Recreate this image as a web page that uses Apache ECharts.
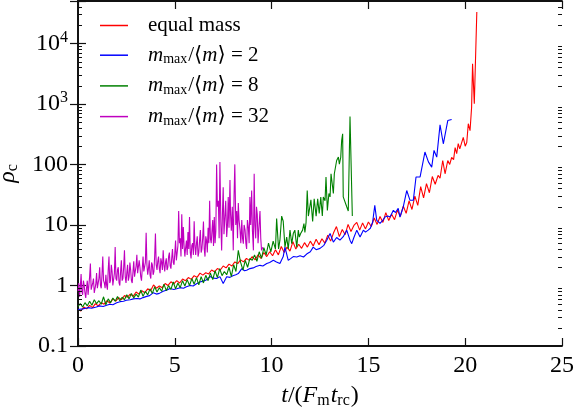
<!DOCTYPE html>
<html><head><meta charset="utf-8">
<script src="https://cdn.jsdelivr.net/npm/echarts@6/dist/echarts.min.js"></script>
<style>html,body{margin:0;padding:0;background:#fff}#c{width:577px;height:413px}</style>
</head><body><div id="c"></div>
<script>
// ---------- data ----------
const xTickValues = [0, 5, 10, 15, 20, 25];
const yTickValues = [0.1, 1, 10, 100, 1000, 10000];
const yTickLabels = ['0.1', '1', '10', '100', '{b|10}{s|3}', '{b|10}{s|4}'];
const yMinorMultipliers = [2, 3, 4, 5, 6, 7, 8, 9];
const seriesNames = ['equal mass', 'm2', 'm8', 'm32'];
const legendLabels = {
  'equal mass': '{n|equal mass}',
  'm2': '{i|m}{sb|max}{n|/\u27E8}{i|m}{n|\u27E9 = 2}',
  'm8': '{i|m}{sb|max}{n|/\u27E8}{i|m}{n|\u27E9 = 8}',
  'm32': '{i|m}{sb|max}{n|/\u27E8}{i|m}{n|\u27E9 = 32}'
};
const seriesColors = ['#ff0000', '#0000ff', '#008000', '#bf00bf'];

const equalMass = [
[0.00,0.40],[0.15,0.38],[0.30,0.44],[0.45,0.41],[0.60,0.47],[0.75,0.43],[0.90,0.50],[1.05,0.46],[1.20,0.52],[1.35,0.49],
[1.50,0.56],[1.65,0.51],[1.80,0.60],[1.95,0.55],[2.10,0.63],[2.25,0.58],[2.40,0.68],[2.55,0.64],[2.70,0.72],[2.85,0.66],
[3.00,0.78],[3.15,0.72],[3.30,0.82],[3.45,0.76],[3.60,0.88],[3.75,0.82],[3.90,1.02],[4.05,0.90],[4.20,0.98],[4.35,0.92],
[4.50,1.08],[4.65,1.00],[4.80,1.15],[4.95,1.06],[5.10,1.20],[5.25,1.10],[5.40,1.28],[5.55,1.20],[5.70,1.35],[5.85,1.26],
[6.00,1.45],[6.15,1.36],[6.30,1.60],[6.45,1.48],[6.60,1.62],[6.75,1.55],[6.90,1.80],[7.05,1.68],[7.20,1.90],[7.35,1.80],
[7.50,2.10],[7.65,1.95],[7.80,2.25],[7.95,2.10],[8.10,2.45],[8.25,2.30],[8.40,2.65],[8.55,2.45],[8.70,2.80],[8.85,2.60],
[9.00,3.00],[9.15,2.65],[9.30,3.20],[9.45,2.80],[9.60,3.50],[9.75,3.00],[9.90,3.60],[10.05,3.10],[10.20,3.90],[10.35,3.20],
[10.50,4.40],[10.65,3.50],[10.80,4.30],[10.95,3.70],[11.10,5.30],[11.25,4.00],[11.40,4.80],[11.55,4.10],[11.70,5.10],[11.85,4.30],
[12.00,5.40],[12.15,4.50],[12.30,5.80],[12.45,4.70],[12.60,5.90],[12.75,5.00],[12.90,6.80],[13.05,5.40],[13.20,7.40],[13.35,9.40],
[13.50,6.40],[13.65,8.40],[13.80,6.90],[13.95,10.2],[14.10,7.80],[14.25,9.80],[14.40,11.0],[14.55,8.20],[14.70,10.8],[14.85,8.60],
[15.00,11.2],[15.15,9.40],[15.30,13.0],[15.45,10.2],[15.60,13.8],[15.75,11.0],[15.90,16.0],[16.05,11.8],[16.20,15.0],[16.35,12.2],
[16.50,17.5],[16.65,13.8],[16.80,20.5],[16.95,15.5],[17.10,25.0],[17.25,18.0],[17.40,30.0],[17.55,21.0],[17.70,43.0],[17.85,28.0],
[18.00,48.0],[18.15,34.0],[18.30,63.0],[18.45,47.0],[18.60,66.0],[18.70,59.0],[18.84,116],[18.96,70.0],[19.10,116],[19.20,100],
[19.30,130],[19.40,120],[19.48,190],[19.56,150],[19.64,220],[19.72,180],[19.82,170],[19.90,280],[20.00,200],[20.08,230],
[20.16,470],[20.25,360],[20.33,870],[20.38,4600],[20.47,1000],[20.60,33000]
];

const ratio2 = [
[0.0,0.40],[0.1,0.40],[0.25,0.41],[0.4,0.42],[0.55,0.43],[0.7,0.42],[0.79,0.45],[0.95,0.44],[1.1,0.46],[1.3,0.45],
[1.48,0.47],[1.65,0.49],[1.8,0.48],[2.0,0.52],[2.17,0.54],[2.35,0.55],[2.5,0.57],[2.7,0.58],[2.86,0.60],[3.05,0.61],
[3.2,0.60],[3.36,0.63],[3.55,0.66],[3.7,0.68],[3.89,0.76],[4.05,0.72],[4.2,0.74],[4.4,0.80],[4.6,0.84],[4.75,0.89],
[4.95,0.86],[5.1,0.88],[5.27,0.92],[5.45,0.90],[5.6,0.95],[5.79,1.0],[5.95,0.98],[6.1,1.06],[6.3,1.14],[6.45,1.18],
[6.6,1.22],[6.82,1.40],[7.0,1.32],[7.16,1.30],[7.33,1.40],[7.5,1.08],[7.68,1.39],[7.85,1.36],[8.0,1.45],[8.15,1.50],
[8.28,1.57],[8.46,1.90],[8.6,1.75],[8.71,1.78],[8.88,1.90],[9.05,1.95],[9.2,2.05],[9.4,2.15],[9.55,2.10],[9.75,2.30],
[9.9,2.40],[10.09,2.60],[10.25,2.45],[10.43,2.30],[10.6,3.00],[10.69,4.30],[10.86,2.60],[11.0,2.80],[11.12,3.00],[11.3,2.95],
[11.47,3.10],[11.65,2.95],[11.81,3.30],[12.0,3.60],[12.15,4.30],[12.3,3.90],[12.5,4.10],[12.7,4.60],[12.85,5.60],[13.02,7.20],
[13.19,5.20],[13.36,6.20],[13.53,5.60],[13.7,6.40],[13.88,8.20],[14.05,5.60],[14.14,4.90],[14.25,6.20],[14.4,8.20],[14.57,6.30],
[14.74,8.20],[14.85,7.60],[14.99,8.20],[15.1,8.80],[15.22,11.2],[15.33,21.0],[15.43,11.9],[15.6,10.6],[15.75,12.0],[15.86,13.5],
[16.0,14.0],[16.12,13.5],[16.29,17.4],[16.4,16.0],[16.54,18.8],[16.63,13.5],[16.8,19.8],[16.98,37.0],[17.15,25.5],[17.32,25.5],
[17.46,62.0],[17.67,62.0],[17.92,160],[18.1,110],[18.27,90.0],[18.39,170],[18.53,132],[18.7,450],[18.87,219],[19.1,530],[19.3,552]
];

const ratio8 = [
[0.00,0.45],[0.12,0.50],[0.24,0.44],[0.36,0.52],[0.48,0.46],[0.60,0.55],[0.72,0.47],[0.84,0.58],[0.96,0.50],[1.08,0.56],
[1.20,0.49],[1.32,0.65],[1.44,0.48],[1.56,0.60],[1.68,0.52],[1.80,0.62],[1.92,0.55],[2.04,0.66],[2.16,0.56],[2.28,0.64],
[2.40,0.58],[2.52,0.70],[2.64,0.60],[2.76,0.74],[2.88,0.62],[3.00,0.72],[3.12,0.64],[3.24,0.84],[3.36,0.66],[3.48,0.80],
[3.60,0.70],[3.72,0.88],[3.84,0.74],[3.96,0.95],[4.08,0.78],[4.20,0.92],[4.32,0.80],[4.44,1.05],[4.56,0.82],[4.68,1.00],
[4.80,0.86],[4.92,1.14],[5.04,0.88],[5.16,1.10],[5.28,0.92],[5.40,1.20],[5.52,0.98],[5.64,1.25],[5.76,1.00],[5.88,1.30],
[6.00,1.05],[6.12,1.35],[6.24,1.02],[6.36,1.40],[6.48,1.10],[6.60,1.47],[6.72,1.20],[6.84,1.60],[6.96,1.25],[7.08,1.75],
[7.20,1.35],[7.32,1.90],[7.44,1.45],[7.56,1.70],[7.68,1.50],[7.80,2.00],[7.92,1.40],[8.04,2.20],[8.16,1.70],[8.28,3.80],
[8.40,2.40],[8.52,1.80],[8.64,2.60],[8.76,2.00],[8.88,2.80],[9.00,2.60],[9.12,3.20],[9.24,2.50],[9.36,3.60],[9.48,2.80],
[9.60,4.20],[9.72,3.20],[9.84,5.00],[9.96,3.60],[10.08,5.40],[10.20,4.00],[10.26,12.7],[10.36,4.00],[10.43,5.60],[10.52,14.0],
[10.60,11.5],[10.69,4.30],[10.78,6.30],[10.86,4.00],[10.95,8.20],[11.04,4.90],[11.12,7.20],[11.20,8.20],[11.30,4.30],[11.38,8.20],
[11.43,6.30],[11.50,7.20],[11.60,8.20],[11.67,10.5],[11.72,7.50],[11.78,11.0],[11.84,37.0],[11.90,14.0],[11.95,13.0],[12.03,26.0],
[12.12,11.4],[12.20,27.0],[12.30,14.0],[12.38,27.0],[12.46,15.5],[12.54,29.0],[12.62,14.0],[12.67,29.0],[12.76,25.0],[12.81,62.0],
[12.88,17.4],[12.96,33.0],[13.02,29.0],[13.07,70.0],[13.14,75.0],[13.19,33.0],[13.24,70.0],[13.29,68.0],[13.36,116],[13.45,132],
[13.50,101],[13.57,130],[13.62,250],[13.67,320],[13.70,29.0],[13.79,30.0],[13.88,20.0],[13.96,17.0],[14.05,620],[14.17,14.0]
];

const ratio32 = [
[0.00,0.80],[0.04,1.10],[0.08,0.65],[0.12,0.95],[0.16,1.55],[0.20,0.80],[0.24,0.70],[0.28,1.20],[0.32,1.00],[0.36,0.75],
[0.40,0.62],[0.44,0.90],[0.48,1.20],[0.52,0.70],[0.56,0.75],[0.60,1.40],[0.64,2.30],[0.68,0.85],[0.72,0.80],[0.76,1.10],
[0.80,1.30],[0.84,0.75],[0.88,0.70],[0.92,1.05],[0.96,1.60],[1.00,0.90],[1.04,0.85],[1.08,1.30],[1.12,2.00],[1.16,1.00],
[1.20,0.90],[1.24,1.50],[1.28,3.00],[1.32,1.20],[1.36,1.10],[1.40,0.90],[1.44,1.50],[1.48,1.00],[1.52,0.85],[1.56,1.80],
[1.60,3.00],[1.64,1.10],[1.68,1.20],[1.72,2.20],[1.76,1.70],[1.80,1.00],[1.84,0.95],[1.88,1.60],[1.92,4.30],[1.96,1.30],
[2.00,1.20],[2.04,1.80],[2.08,2.00],[2.12,1.10],[2.16,1.00],[2.20,1.70],[2.24,2.60],[2.28,1.20],[2.32,1.30],[2.36,2.00],
[2.40,3.80],[2.44,1.40],[2.48,1.10],[2.52,1.60],[2.56,2.20],[2.60,1.20],[2.64,1.40],[2.68,2.40],[2.72,1.80],[2.76,1.20],
[2.80,1.10],[2.84,1.70],[2.88,2.50],[2.92,1.40],[2.96,1.30],[3.00,2.10],[3.04,3.20],[3.08,1.60],[3.12,1.50],[3.16,2.60],
[3.20,2.00],[3.24,1.40],[3.28,1.20],[3.32,1.90],[3.36,3.00],[3.40,1.70],[3.44,1.60],[3.48,2.40],[3.52,7.40],[3.56,2.20],
[3.60,1.50],[3.64,1.90],[3.68,2.60],[3.72,1.50],[3.76,1.30],[3.80,2.40],[3.84,2.20],[3.88,1.50],[3.92,1.70],[3.96,3.00],
[4.00,7.20],[4.04,2.20],[4.08,1.80],[4.12,2.50],[4.16,3.00],[4.20,1.90],[4.24,1.60],[4.28,2.80],[4.32,2.40],[4.36,1.80],
[4.40,3.80],[4.44,2.20],[4.48,1.70],[4.52,2.40],[4.56,2.80],[4.60,1.80],[4.64,2.00],[4.68,3.00],[4.72,3.50],[4.76,2.10],
[4.80,1.90],[4.84,2.80],[4.88,4.00],[4.92,2.40],[4.96,2.20],[5.00,3.40],[5.04,5.50],[5.08,2.60],[5.12,2.50],[5.16,4.50],
[5.20,17.0],[5.24,5.00],[5.28,6.00],[5.32,3.00],[5.36,15.0],[5.40,4.00],[5.44,9.20],[5.48,4.50],[5.52,3.00],[5.56,4.20],
[5.60,5.50],[5.64,3.20],[5.68,7.60],[5.72,4.00],[5.76,13.5],[5.80,3.50],[5.84,2.80],[5.88,4.60],[5.92,5.00],[5.96,3.20],
[6.00,11.5],[6.04,4.50],[6.08,3.20],[6.12,5.00],[6.16,6.50],[6.20,3.00],[6.24,3.50],[6.28,5.50],[6.32,8.20],[6.36,3.50],
[6.40,4.00],[6.44,6.00],[6.48,11.4],[6.52,4.00],[6.56,3.00],[6.60,6.50],[6.64,5.50],[6.68,3.50],[6.72,9.00],[6.76,5.00],
[6.80,25.0],[6.84,6.00],[6.88,5.00],[6.92,8.00],[6.96,12.0],[7.00,4.50],[7.04,13.5],[7.08,5.00],[7.12,8.00],[7.16,100],
[7.20,20.0],[7.25,25.0],[7.29,6.00],[7.33,109],[7.38,10.0],[7.42,3.80],[7.46,15.0],[7.50,42.0],[7.54,7.00],[7.58,12.0],
[7.63,25.0],[7.68,6.30],[7.72,10.0],[7.76,29.0],[7.80,9.00],[7.85,55.0],[7.88,15.0],[7.92,8.00],[7.97,20.0],[8.02,3.80],
[8.06,30.0],[8.10,100],[8.15,10.0],[8.20,17.0],[8.24,6.00],[8.28,23.0],[8.32,12.0],[8.37,8.20],[8.41,5.00],[8.46,12.0],
[8.50,6.00],[8.54,4.90],[8.58,10.0],[8.63,8.20],[8.67,5.00],[8.71,4.00],[8.75,12.0],[8.80,9.00],[8.84,5.00],[8.88,29.0],
[8.92,10.0],[8.97,37.0],[9.01,8.00],[9.06,3.80],[9.10,70.0],[9.14,10.0],[9.18,6.00],[9.22,20.0],[9.26,15.0],[9.30,5.00],
[9.34,5.00],[9.37,12.0],[9.40,17.0],[9.44,6.00],[9.48,3.80],[9.55,4.30]
];

const seriesData = [equalMass, ratio2, ratio8, ratio32];

// ---------- chart ----------
const FONT = "'Liberation Serif', 'DejaVu Serif', serif";
const chart = echarts.init(document.getElementById('c'), null, {renderer: 'canvas'});

const axisLine = {show: true, lineStyle: {color: '#111', width: 1.8}};
const yLabelFmt = v => {
  let best = 0, bd = Infinity;
  yTickValues.forEach((t, i) => { const d = Math.abs(Math.log10(v) - Math.log10(t)); if (d < bd) { bd = d; best = i; } });
  return bd < 0.01 ? yTickLabels[best] : '';
};

const option = {
  animation: false,
  backgroundColor: '#fff',
  grid: {left: 78, right: 15, top: 1, bottom: 67, containLabel: false, outerBoundsMode: 'none'},
  legend: {
    show: true, orient: 'vertical', left: 100, top: 15, padding: 0,
    itemWidth: 28, itemHeight: 1.5, itemGap: 7.7, icon: 'rect',
    data: seriesNames,
    formatter: name => legendLabels[name],
    textStyle: {
      padding: [0, 0, 0, 15],
      rich: {
        n: {fontFamily: FONT, fontSize: 21, color: '#000', lineHeight: 22},
        i: {fontFamily: FONT, fontSize: 21, fontStyle: 'italic', color: '#000', lineHeight: 22},
        sb: {fontFamily: FONT, fontSize: 14, color: '#000', lineHeight: 13, padding: [9, 1, 0, 0]}
      }
    }
  },
  xAxis: [{
    type: 'value', min: xTickValues[0], max: xTickValues[xTickValues.length - 1], interval: 5,
    position: 'bottom', axisLine,
    axisTick: {show: true, inside: true, length: 8, lineStyle: {color: '#111', width: 1.2}},
    axisLabel: {fontFamily: FONT, fontSize: 24, color: '#000', margin: 8},
    splitLine: {show: false},
    name: '{i|t}{n|/(}{i|F}{sb|m}{i|t}{sb|rc}{n|)}',
    nameLocation: 'middle', nameGap: 30,
    nameTextStyle: {
      rich: {
        n: {fontFamily: FONT, fontSize: 24, color: '#000', lineHeight: 26},
        i: {fontFamily: FONT, fontSize: 24, fontStyle: 'italic', color: '#000', lineHeight: 26},
        sb: {fontFamily: FONT, fontSize: 16, color: '#000', lineHeight: 15, padding: [10, 1, 0, 0]}
      }
    }
  }, {
    type: 'value', min: 0, max: 25, interval: 5, position: 'top', axisLine,
    axisTick: {show: true, inside: true, length: 8, lineStyle: {color: '#111', width: 1.2}},
    axisLabel: {show: false}, splitLine: {show: false}
  }],
  yAxis: [{
    type: 'log', logBase: 10, min: 0.1, max: 50000, position: 'left', axisLine,
    axisTick: {show: true, inside: true, length: 8, lineStyle: {color: '#111', width: 1.2}},
    axisLabel: {
      fontFamily: FONT, fontSize: 24, color: '#000', margin: 10, formatter: yLabelFmt,
      rich: {
        b: {fontFamily: FONT, fontSize: 24, color: '#000'},
        s: {fontFamily: FONT, fontSize: 16, color: '#000', padding: [0, 0, 12, 0]}
      }
    },
    splitLine: {show: false},
    name: '{i|\u03C1}{sb|c}', nameLocation: 'middle', nameGap: 44, nameRotate: 90,
    nameTextStyle: {
      rich: {
        i: {fontFamily: FONT, fontSize: 24, fontStyle: 'italic', color: '#000', lineHeight: 26},
        sb: {fontFamily: FONT, fontSize: 16, color: '#000', lineHeight: 15, padding: [10, 0, 0, 0]}
      }
    }
  }, {
    type: 'log', logBase: 10, min: 0.1, max: 50000, position: 'right', axisLine,
    axisTick: {show: true, inside: true, length: 8, lineStyle: {color: '#111', width: 1.2}},
    axisLabel: {show: false}, splitLine: {show: false}
  }],
  series: seriesNames.map((name, i) => ({
    name, type: 'line', data: seriesData[i], xAxisIndex: 0, yAxisIndex: 0,
    showSymbol: false, symbol: 'none', color: seriesColors[i],
    lineStyle: {width: 1.1, color: seriesColors[i]}, z: 2 + i, silent: true
  }))
};
chart.setOption(option);

// minor ticks of the log axes, placed through the axis scale
const gr = [];
const xl = chart.convertToPixel({xAxisIndex: 0}, 0);
const xr = chart.convertToPixel({xAxisIndex: 0}, 25);
for (let k = -1; k <= 4; k++) {
  yMinorMultipliers.forEach(m => {
    const v = m * Math.pow(10, k);
    if (v >= 50000) return;
    const y = Math.round(chart.convertToPixel({yAxisIndex: 0}, v)) + 0.5;
    gr.push({type: 'line', shape: {x1: xl, y1: y, x2: xl + 4, y2: y}, style: {stroke: '#111', lineWidth: 1}, z: 20, silent: true});
    gr.push({type: 'line', shape: {x1: xr, y1: y, x2: xr - 4, y2: y}, style: {stroke: '#111', lineWidth: 1}, z: 20, silent: true});
  });
}
chart.setOption({graphic: gr});
</script>
</body></html>
